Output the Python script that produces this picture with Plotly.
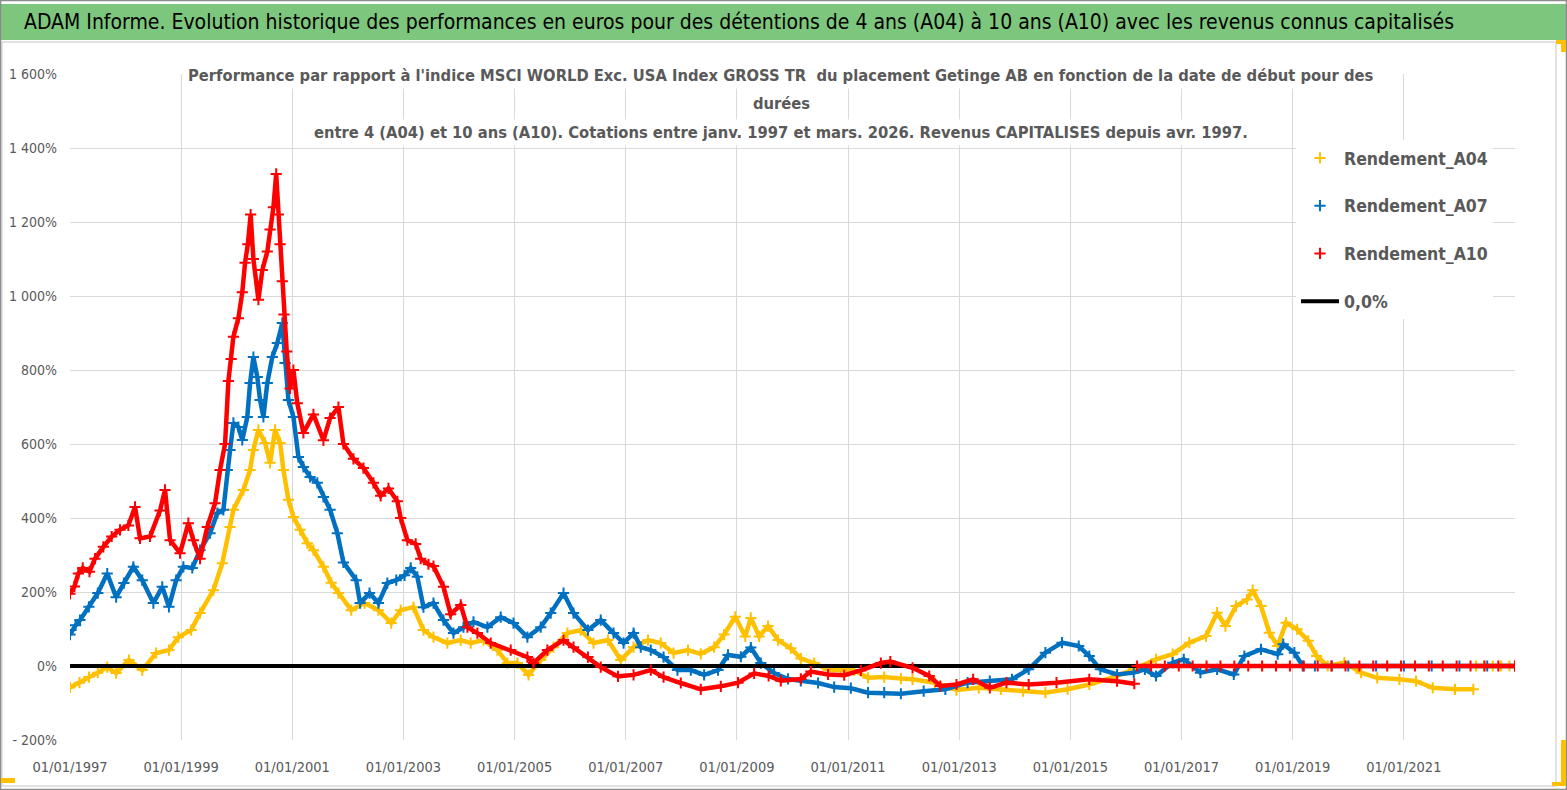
import plotly.graph_objects as go

# ---------------- data ----------------
A04_YEARS = [1997.00, 1997.17, 1997.34, 1997.50, 1997.67, 1997.83, 1998.06, 1998.30, 1998.55, 1998.78,
             1998.95, 1999.18, 1999.34, 1999.58, 1999.74, 1999.88, 1999.94, 2000.12, 2000.24, 2000.30,
             2000.39, 2000.51, 2000.60, 2000.69, 2000.78, 2000.84, 2000.93, 2001.02, 2001.14, 2001.27,
             2001.38, 2001.56, 2001.70, 2001.83, 2002.06, 2002.30, 2002.55, 2002.78, 2002.95, 2003.18,
             2003.36, 2003.54, 2003.79, 2004.03, 2004.21, 2004.44, 2004.69, 2004.87, 2005.05, 2005.25,
             2005.47, 2005.70, 2005.95, 2006.19, 2006.42, 2006.68, 2006.91, 2007.14, 2007.40, 2007.63,
             2007.86, 2008.12, 2008.35, 2008.59, 2008.77, 2008.97, 2009.15, 2009.25, 2009.40, 2009.56,
             2009.74, 2009.97, 2010.15, 2010.39, 2010.64, 2010.87, 2011.11, 2011.36, 2011.65, 2011.95,
             2012.16, 2012.56, 2012.95, 2013.35, 2013.75, 2014.15, 2014.55, 2014.95, 2015.34, 2015.74,
             2016.14, 2016.54, 2016.84, 2017.14, 2017.44, 2017.64, 2017.79, 2017.98, 2018.18, 2018.28,
             2018.43, 2018.58, 2018.73, 2018.88, 2019.08, 2019.28, 2019.43, 2019.63, 2019.93, 2020.23,
             2020.52, 2020.92, 2021.22, 2021.52, 2021.92, 2022.25, None,
             2022.30, 2022.45, 2022.60, 2022.75, 2022.90, 2023.00]
A04_VALUES = [-58, -45, -30, -18, -3, -19, 16, -11, 35, 43,
              78, 97, 143, 205, 278, 376, 422, 476, 530, 584,
              638, 603, 549, 638, 603, 530, 449, 403, 368, 332,
              313, 268, 225, 197, 151, 170, 151, 116, 151, 159,
              97, 78, 62, 70, 62, 70, 43, 8, 8, -24,
              16, 51, 89, 97, 62, 70, 16, 51, 70, 62,
              35, 43, 33, 51, 85, 133, 80, 130, 80, 108,
              70, 48, 20, 8, -10, -11, -12, -32, -30, -34,
              -36, -45, -65, -59, -63, -68, -72, -63, -50, -32,
              -9, 18, 32, 63, 81, 144, 108, 162, 180, 205,
              162, 90, 54, 117, 99, 68, 27, 0, 9, -18,
              -32, -36, -41, -59, -63, -63, None,
              0, 0, 0, 0, 0, 0]

A07_YEARS = [1997.00, 1997.10, 1997.18, 1997.34, 1997.50, 1997.67, 1997.83, 1997.97, 1998.14, 1998.30,
             1998.50, 1998.66, 1998.78, 1998.91, 1999.04, 1999.20, 1999.34, 1999.52, 1999.65, 1999.76,
             1999.83, 1999.88, 1999.94, 2000.03, 2000.10, 2000.19, 2000.24, 2000.30, 2000.37, 2000.42,
             2000.48, 2000.55, 2000.64, 2000.73, 2000.82, 2000.87, 2000.93, 2001.02, 2001.11, 2001.20,
             2001.32, 2001.45, 2001.56, 2001.68, 2001.81, 2001.92, 2002.15, 2002.22, 2002.39, 2002.55,
             2002.71, 2002.87, 2003.02, 2003.13, 2003.25, 2003.36, 2003.54, 2003.72, 2003.90, 2004.08,
             2004.26, 2004.51, 2004.75, 2004.98, 2005.23, 2005.47, 2005.65, 2005.88, 2006.06, 2006.32,
             2006.55, 2006.78, 2006.96, 2007.14, 2007.27, 2007.45, 2007.68, 2007.93, 2008.17, 2008.41,
             2008.66, 2008.84, 2009.07, 2009.25, 2009.43, 2009.67, 2009.92, 2010.15, 2010.46, 2010.75,
             2011.05, 2011.36, 2011.65, 2011.95, 2012.36, 2012.75, 2013.15, 2013.55, 2013.95, 2014.25,
             2014.55, 2014.85, 2015.15, 2015.34, 2015.54, 2015.84, 2016.14, 2016.34, 2016.54, 2016.84,
             2017.04, 2017.34, 2017.64, 2017.94, 2018.13, 2018.43, 2018.73, 2018.83, 2019.03, 2019.18,
             2019.40, 2019.70, 2020.00, 2020.50, 2021.00, 2021.50, 2022.00, 2022.50, 2023.00]
A07_VALUES = [85, 110, 124, 160, 197, 250, 186, 224, 268, 232,
              170, 214, 160, 232, 268, 265, 313, 359, 413, 422,
              530, 584, 657, 646, 611, 673, 765, 835, 781, 719,
              673, 765, 835, 873, 927, 819, 719, 673, 565, 538,
              511, 495, 457, 422, 359, 280, 232, 170, 197, 170,
              224, 232, 245, 265, 241, 159, 170, 124, 89, 105,
              119, 105, 132, 116, 78, 105, 143, 197, 143, 97,
              124, 89, 62, 89, 51, 43, 24, -11, -11, -24,
              -11, 30, 25, 50, 8, -19, -35, -40, -46, -57,
              -60, -72, -72, -75, -68, -63, -45, -41, -36, -9,
              36, 63, 54, 27, -9, -23, -18, -9, -27, 9,
              18, -18, -9, -23, 27, 45, 32, 59, 36, 0,
              0, 0, 0, 0, 0, 0, 0, 0, 0]

A10_YEARS = [1997.00, 1997.08, 1997.15, 1997.23, 1997.35, 1997.45, 1997.60, 1997.75, 1997.90, 1998.05,
             1998.17, 1998.26, 1998.44, 1998.62, 1998.71, 1998.80, 1998.98, 1999.13, 1999.22, 1999.34,
             1999.47, 1999.61, 1999.70, 1999.79, 1999.85, 1999.90, 1999.94, 2000.03, 2000.10, 2000.15,
             2000.20, 2000.25, 2000.30, 2000.39, 2000.46, 2000.55, 2000.60, 2000.66, 2000.71, 2000.75,
             2000.78, 2000.82, 2000.85, 2000.90, 2000.96, 2001.02, 2001.09, 2001.20, 2001.38, 2001.56,
             2001.68, 2001.83, 2001.92, 2002.10, 2002.28, 2002.46, 2002.59, 2002.73, 2002.89, 2002.95,
             2003.07, 2003.22, 2003.31, 2003.45, 2003.54, 2003.72, 2003.85, 2004.03, 2004.15, 2004.33,
             2004.57, 2004.93, 2005.23, 2005.34, 2005.59, 2005.88, 2006.06, 2006.32, 2006.55, 2006.86,
             2007.14, 2007.45, 2007.68, 2007.99, 2008.35, 2008.71, 2009.02, 2009.31, 2009.57, 2009.79,
             2010.15, 2010.33, 2010.64, 2010.93, 2011.23, 2011.59, 2011.76, 2012.16, 2012.46, 2012.66,
             2012.95, 2013.25, 2013.55, 2013.85, 2014.25, 2014.75, 2015.34, 2015.84, 2016.15, None,
             2016.20, 2016.45, 2016.70, 2016.95, 2017.20, 2017.45, 2017.70, 2017.95, 2018.20, 2018.45,
             2018.70, 2018.95, 2019.20, 2019.45, 2019.70, 2019.95, 2020.20, 2020.45, 2020.70, 2020.95,
             2021.20, 2021.45, 2021.70, 2021.95, 2022.20, 2022.45, 2022.70, 2023.00]
A10_VALUES = [195, 215, 250, 265, 255, 290, 322, 350, 368, 380,
              430, 345, 350, 420, 476, 340, 305, 386, 340, 290,
              376, 440, 530, 600, 770, 830, 890, 940, 1010, 1090,
              1140, 1220, 1100, 990, 1070, 1120, 1180, 1240, 1330, 1220,
              1140, 1040, 950, 850, 750, 800, 710, 630, 680, 610,
              670, 700, 600, 560, 535, 495, 460, 480, 445, 400,
              340, 330, 290, 275, 270, 214, 140, 165, 105, 89,
              62, 43, 24, 8, 43, 70, 51, 24, -3, -28,
              -24, -11, -30, -46, -63, -55, -45, -20, -27, -40,
              -35, -15, -23, -25, -12, 8, 12, -5, -27, -54,
              -50, -36, -59, -45, -50, -45, -36, -41, -48, None,
              0, 0, 0, 0, 0, 0, 0, 0, 0, 0,
              0, 0, 0, 0, 0, 0, 0, 0, 0, 0,
              0, 0, 0, 0, 0, 0, 0, 0]

ZERO_X = [1997.0, 2023.0]
ZERO_Y = [0, 0]

X_TICK_VALS = [1997, 1999, 2001, 2003, 2005, 2007, 2009, 2011, 2013, 2015, 2017, 2019, 2021]
X_TICK_TEXT = ["01/01/" + str(v) for v in X_TICK_VALS]
Y_TICK_VALS = [-200, 0, 200, 400, 600, 800, 1000, 1200, 1400, 1600]
Y_TICK_TEXT = ["- 200%", "0%", "200%", "400%", "600%", "800%", "1 000%", "1 200%", "1 400%", "1 600%"]

SERIES_NAMES = ["Rendement_A04", "Rendement_A07", "Rendement_A10"]
COLORS = ["#FFC000", "#0070C0", "#FF0000"]

MAIN_TITLE = ("ADAM Informe. Evolution historique des performances en euros pour des détentions de 4 ans (A04) "
              "à 10 ans (A10) avec les revenus connus capitalisés")
SUB_TITLE_LINES = [
    "Performance par rapport à l'indice MSCI WORLD Exc. USA Index GROSS TR  du placement Getinge AB "
    "en fonction de la date de début pour des",
    "durées",
    "entre 4 (A04) et 10 ans (A10). Cotations entre janv. 1997 et mars. 2026. Revenus CAPITALISES depuis avr. 1997.",
]

# ---------------- layout geometry ----------------
W, H = 1567, 790
ML, MR, MT, MB = 70, 52, 74, 50
PW, PH = W - ML - MR, H - MT - MB
FONT = "DejaVu Sans Condensed, Liberation Sans Narrow, Arial Narrow, sans-serif"
GRAY = "#595959"


def px(x):
    return (x - ML) / PW


def py(y):
    return (H - MB - y) / PH


fig = go.Figure()

LINE_W = 4.5
MARK_SIZE = 8

series = [(A04_YEARS, A04_VALUES), (A07_YEARS, A07_VALUES)]
for i, (xs, ys) in enumerate(series):
    fig.add_trace(go.Scatter(x=xs, y=ys, mode="lines", line=dict(color=COLORS[i], width=LINE_W),
                             showlegend=False, hoverinfo="skip", connectgaps=False))
    fig.add_trace(go.Scatter(x=xs, y=ys, mode="markers", name=SERIES_NAMES[i],
                             legendrank=i + 1, legendgroup=SERIES_NAMES[i],
                             marker=dict(symbol="cross-thin", size=MARK_SIZE, color=COLORS[i],
                                         line=dict(color=COLORS[i], width=2))))

fig.add_trace(go.Scatter(x=ZERO_X, y=ZERO_Y, mode="lines", name="0,0%", legendrank=4,
                         legendgroup="zero", line=dict(color="black", width=4)))

fig.add_trace(go.Scatter(x=A10_YEARS, y=A10_VALUES, mode="lines", line=dict(color=COLORS[2], width=LINE_W),
                         showlegend=False, hoverinfo="skip", connectgaps=False))
fig.add_trace(go.Scatter(x=A10_YEARS, y=A10_VALUES, mode="markers", name=SERIES_NAMES[2],
                         legendrank=3, legendgroup=SERIES_NAMES[2],
                         marker=dict(symbol="cross-thin", size=MARK_SIZE, color=COLORS[2],
                                     line=dict(color=COLORS[2], width=2))))

shapes = [
    # green title band
    dict(type="rect", xref="paper", yref="paper", x0=px(0), x1=px(W), y0=py(40), y1=py(4),
         fillcolor="#7DC67E", line=dict(width=0), layer="below"),
    # inner light frame
    dict(type="rect", xref="paper", yref="paper", x0=px(2), x1=px(1556), y0=py(786), y1=py(42),
         fillcolor="rgba(0,0,0,0)", line=dict(color="#D9D9D9", width=1.5), layer="below"),
    # outer frame
    dict(type="rect", xref="paper", yref="paper", x0=px(0.5), x1=px(W - 0.5), y0=py(H - 0.5), y1=py(0.5),
         fillcolor="rgba(0,0,0,0)", line=dict(color="#8C8C8C", width=1.5), layer="below"),
    # yellow selection handles
    dict(type="rect", xref="paper", yref="paper", x0=px(1), x1=px(15), y0=py(783), y1=py(778),
         fillcolor="#FFC000", line=dict(width=0)),
    dict(type="rect", xref="paper", yref="paper", x0=px(1556), x1=px(1566), y0=py(44), y1=py(40),
         fillcolor="#FFC000", line=dict(width=0)),
    dict(type="rect", xref="paper", yref="paper", x0=px(1561), x1=px(1566), y0=py(52), y1=py(40),
         fillcolor="#FFC000", line=dict(width=0)),
    dict(type="rect", xref="paper", yref="paper", x0=px(1561), x1=px(1566), y0=py(786), y1=py(740),
         fillcolor="#FFC000", line=dict(width=0)),
    dict(type="rect", xref="paper", yref="paper", x0=px(1552), x1=px(1566), y0=py(786), y1=py(782),
         fillcolor="#FFC000", line=dict(width=0)),
]

annotations = [
    dict(text=MAIN_TITLE, xref="paper", yref="paper", x=px(22), y=py(22), xanchor="left", yanchor="middle",
         showarrow=False, font=dict(family=FONT, size=21, color="black")),
]
SUB_Y = [75, 104, 133]
for line, yy in zip(SUB_TITLE_LINES, SUB_Y):
    annotations.append(dict(text="<b>" + line + "</b>", xref="paper", yref="paper", x=px(781), y=py(yy),
                            xanchor="center", yanchor="middle", showarrow=False, align="center",
                            bgcolor="white", borderpad=3, font=dict(family=FONT, size=16.4, color=GRAY)))

fig.update_layout(
    width=W, height=H,
    margin=dict(l=ML, r=MR, t=MT, b=MB, pad=0, autoexpand=False),
    paper_bgcolor="white", plot_bgcolor="white",
    font=dict(family=FONT, color=GRAY),
    shapes=shapes, annotations=annotations,
    showlegend=True,
    legend=dict(x=px(1296), y=py(140), xanchor="left", yanchor="top", bgcolor="white",
                font=dict(family=FONT, size=17.5, color=GRAY, weight="bold"),
                tracegroupgap=22, itemsizing="trace", itemwidth=38),
    xaxis=dict(range=[1997, 2023], tickvals=X_TICK_VALS, ticktext=X_TICK_TEXT, showgrid=True,
               gridcolor="#D9D9D9", gridwidth=1, zeroline=False, showline=False, automargin=False,
               tickfont=dict(family=FONT, size=14.5, color=GRAY), ticks="", ticklabelstandoff=16),
    yaxis=dict(range=[-200, 1600], tickvals=Y_TICK_VALS, ticktext=Y_TICK_TEXT, showgrid=True,
               gridcolor="#D9D9D9", gridwidth=1, zeroline=False, showline=False, automargin=False,
               tickfont=dict(family=FONT, size=14, color=GRAY), ticks="", ticklabelstandoff=12),
    hovermode="closest",
)

fig.write_html("out.html", config={"displayModeBar": False},
               post_script="document.body.style.margin='0';document.body.style.overflow='hidden';")
